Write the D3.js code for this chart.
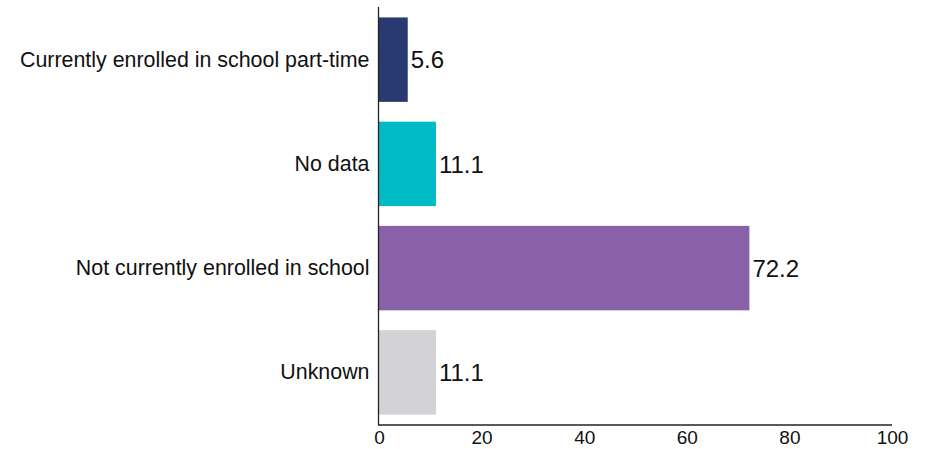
<!DOCTYPE html>
<html><head><meta charset="utf-8">
<script src="https://cdn.jsdelivr.net/npm/d3@7"></script>
<style>body{margin:0;background:#fff}svg{display:block}text{font-family:"Liberation Sans",Arial,sans-serif;fill:#111}</style>
</head><body><svg id="c" width="931" height="449"></svg>
<script>
const categories = ["Currently enrolled in school part-time","No data","Not currently enrolled in school","Unknown"];
const values = [5.6, 11.1, 72.2, 11.1];
const colors = ["#293a73","#00bac6","#8861a8","#d3d3d5"];
const xTicks = [0,20,40,60,80,100];

const svg = d3.select("#c");
const x = d3.scaleLinear().domain([0,100]).range([379,892]);
const y = d3.scaleBand().domain(categories).range([7,425]).paddingInner(0.19).paddingOuter(0.1);

svg.selectAll("rect.bar").data(categories).join("rect")
  .attr("class","bar")
  .attr("x", x(0))
  .attr("y", d=>y(d))
  .attr("width", (d,i)=>x(values[i])-x(0))
  .attr("height", y.bandwidth())
  .attr("fill", (d,i)=>colors[i]);

svg.selectAll("text.val").data(categories).join("text")
  .attr("class","val")
  .attr("x",(d,i)=>x(values[i])+3)
  .attr("y",d=>y(d)+y.bandwidth()/2)
  .attr("dy","0.36em")
  .attr("font-size",24)
  .text((d,i)=>values[i].toFixed(1));

const yAxis = svg.append("g").attr("transform","translate(378.5,0)")
  .call(d3.axisLeft(y).tickSize(0).tickPadding(9));
yAxis.select(".domain").attr("d","M0,7V425.5").attr("stroke","#222").attr("stroke-width",1.3);
yAxis.selectAll("text").attr("font-size",21.4).attr("fill","#111").style("font-family","Liberation Sans, Arial, sans-serif");

const xAxis = svg.append("g").attr("transform","translate(0,425)")
  .call(d3.axisBottom(x).tickValues(xTicks).tickSize(0).tickPadding(6).tickFormat(d3.format("d")));
xAxis.select(".domain").attr("d","M378.5,0H892").attr("stroke","#222").attr("stroke-width",1.3);
xAxis.selectAll("text").attr("font-size",19).attr("fill","#111").style("font-family","Liberation Sans, Arial, sans-serif");
</script></body></html>
